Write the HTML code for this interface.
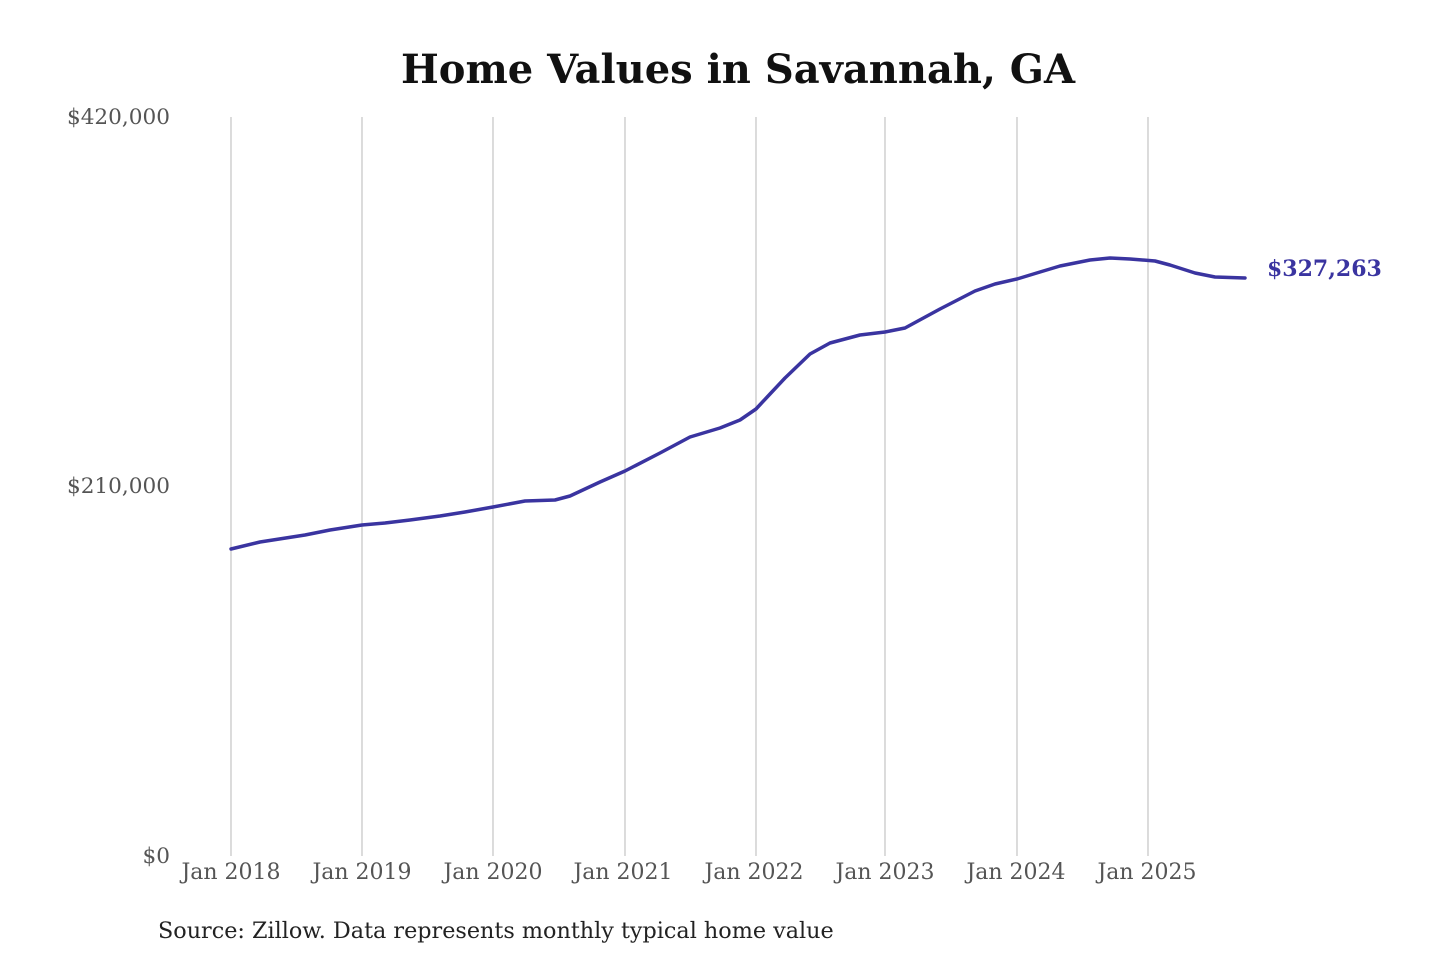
<!DOCTYPE html>
<html><head><meta charset="utf-8"><style>
html,body{margin:0;padding:0;background:#fff;}
svg{display:block;}
</style></head><body>
<svg width="1440" height="960" viewBox="0 0 1440 960" xmlns="http://www.w3.org/2000/svg">
<rect width="1440" height="960" fill="#fff"/>
<text x="738" y="83" text-anchor="middle" font-family="DejaVu Serif, Liberation Serif, serif" font-weight="bold" font-size="40" fill="#111">Home Values in Savannah, GA</text>
<g stroke="#c8c8c8" stroke-width="1.3">
<line x1="231" y1="117" x2="231" y2="856"/>
<line x1="362" y1="117" x2="362" y2="856"/>
<line x1="493" y1="117" x2="493" y2="856"/>
<line x1="625" y1="117" x2="625" y2="856"/>
<line x1="756" y1="117" x2="756" y2="856"/>
<line x1="885" y1="117" x2="885" y2="856"/>
<line x1="1017" y1="117" x2="1017" y2="856"/>
<line x1="1148" y1="117" x2="1148" y2="856"/>
</g>
<g font-family="DejaVu Serif, Liberation Serif, serif" font-size="21.6" fill="#555">
<text x="170" y="124" text-anchor="end">$420,000</text>
<text x="170" y="493" text-anchor="end">$210,000</text>
<text x="170" y="863" text-anchor="end">$0</text>
<g text-anchor="middle" font-size="22">
<text x="231" y="879">Jan 2018</text>
<text x="362" y="879">Jan 2019</text>
<text x="493" y="879">Jan 2020</text>
<text x="623" y="879">Jan 2021</text>
<text x="754" y="879">Jan 2022</text>
<text x="885" y="879">Jan 2023</text>
<text x="1016" y="879">Jan 2024</text>
<text x="1147" y="879">Jan 2025</text>
</g>
</g>
<polyline fill="none" stroke="#3a34a0" stroke-width="3.5" stroke-linejoin="round" stroke-linecap="round" points="231,549 260,542 305,535 330,530 362,525 385,523 410,520 440,516 465,512 493,507 525,501 555,500 570,496 600,482 625,471 660,453 690,437 720,428 740,420 756,409 770,394 785,378 810,354 830,343 860,335 885,332 905,328 940,309 975,291 995,284 1017,279 1040,272 1060,266 1090,260 1110,258 1130,259 1155,261 1170,265 1195,273 1215,277 1245,278"/>
<text x="1267" y="276" font-family="DejaVu Serif, Liberation Serif, serif" font-weight="bold" font-size="22" fill="#3a34a0">$327,263</text>
<text x="158" y="938" font-family="DejaVu Serif, Liberation Serif, serif" font-size="22.3" fill="#222">Source: Zillow. Data represents monthly typical home value</text>
</svg>
</body></html>
